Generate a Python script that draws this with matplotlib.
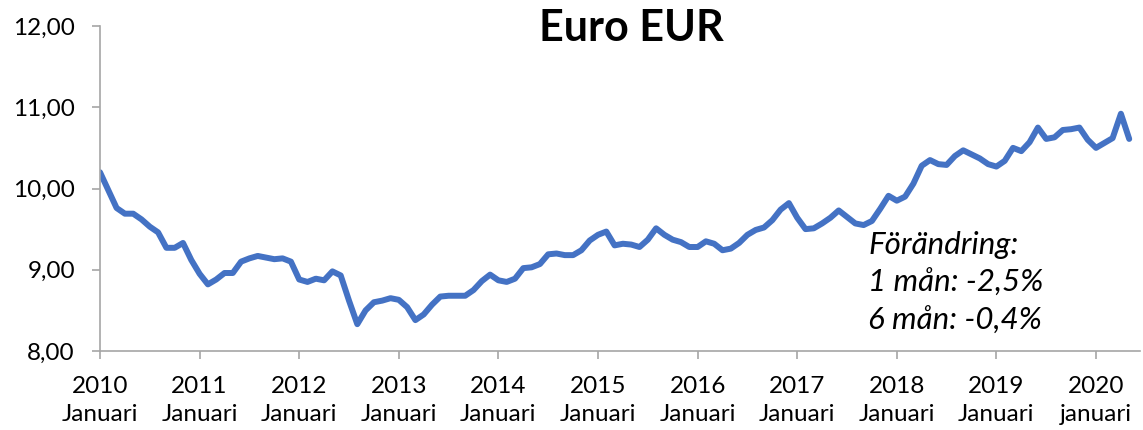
import matplotlib
matplotlib.use("Agg")
import matplotlib.pyplot as plt
from matplotlib.ticker import FuncFormatter

# Monthly EUR/SEK, Jan 2010 .. May 2020
values = [
    10.20, 9.98, 9.76, 9.69, 9.69, 9.62, 9.53, 9.46, 9.27, 9.27, 9.33, 9.12,   # 2010
    8.95, 8.82, 8.88, 8.96, 8.96, 9.10, 9.14, 9.17, 9.15, 9.13, 9.14, 9.10,    # 2011
    8.88, 8.85, 8.89, 8.87, 8.98, 8.93, 8.62, 8.33, 8.50, 8.60, 8.62, 8.65,    # 2012
    8.63, 8.54, 8.38, 8.45, 8.57, 8.67, 8.68, 8.68, 8.68, 8.75, 8.86, 8.94,    # 2013
    8.87, 8.85, 8.89, 9.02, 9.03, 9.07, 9.19, 9.20, 9.18, 9.18, 9.24, 9.36,    # 2014
    9.43, 9.47, 9.30, 9.32, 9.31, 9.28, 9.37, 9.51, 9.43, 9.37, 9.34, 9.28,    # 2015
    9.28, 9.35, 9.32, 9.24, 9.26, 9.33, 9.43, 9.49, 9.52, 9.61, 9.74, 9.82,    # 2016
    9.64, 9.50, 9.51, 9.57, 9.64, 9.73, 9.65, 9.57, 9.55, 9.60, 9.75, 9.91,    # 2017
    9.85, 9.90, 10.06, 10.28, 10.35, 10.30, 10.29, 10.40, 10.47, 10.42, 10.37, 10.30,  # 2018
    10.27, 10.34, 10.50, 10.46, 10.57, 10.75, 10.61, 10.63, 10.72, 10.73, 10.75, 10.60,  # 2019
    10.50, 10.56, 10.62, 10.92, 10.61,                                          # 2020
]
years = [str(y) for y in range(2010, 2021)]
month_names = ["Januari"] * 10 + ["januari"]
tick_labels = [f"{y}\n{m}" for y, m in zip(years, month_names)]
y_ticks = [8, 9, 10, 11, 12]
title = "Euro EUR"
note = "Förändring:\n1 mån: -2,5%\n6 mån: -0,4%"

font = ["Lato", "DejaVu Sans"]
plt.rcParams["font.family"] = font

fig = plt.figure(figsize=(11.43, 4.30), dpi=100)
ax = fig.add_axes([100 / 1143, 79 / 430, 1040 / 1143, 325 / 430])

x = list(range(len(values)))
ax.plot(x, values, color="#4472C4", linewidth=4.3, solid_joinstyle="round",
        solid_capstyle="round")

ax.set_xlim(0, 125.3)
ax.set_ylim(8, 12)
ax.set_yticks(y_ticks)
ax.yaxis.set_major_formatter(FuncFormatter(lambda v, p: f"{v:.2f}".replace(".", ",")))
ax.set_xticks([12 * i for i in range(len(years))])
ax.set_xticklabels(tick_labels, linespacing=1.4)

for s in ["top", "right"]:
    ax.spines[s].set_visible(False)
for s in ["left", "bottom"]:
    ax.spines[s].set_color("#A6A6A6")
    ax.spines[s].set_linewidth(1.2)
ax.tick_params(axis="both", colors="#A6A6A6", length=6, width=1.2,
               labelcolor="black", labelsize=17.5)
ax.tick_params(axis="y", pad=12)
ax.tick_params(axis="x", pad=12)

fig.text(631 / 1143, 1 - 28 / 430, title, ha="center", va="center",
         fontsize=31, fontweight="bold")
fig.text(868 / 1143, 1 - 231 / 430, note, ha="left", va="top", fontsize=22.5,
         fontstyle="italic", linespacing=1.42)

fig.savefig("out.png", dpi=100)
